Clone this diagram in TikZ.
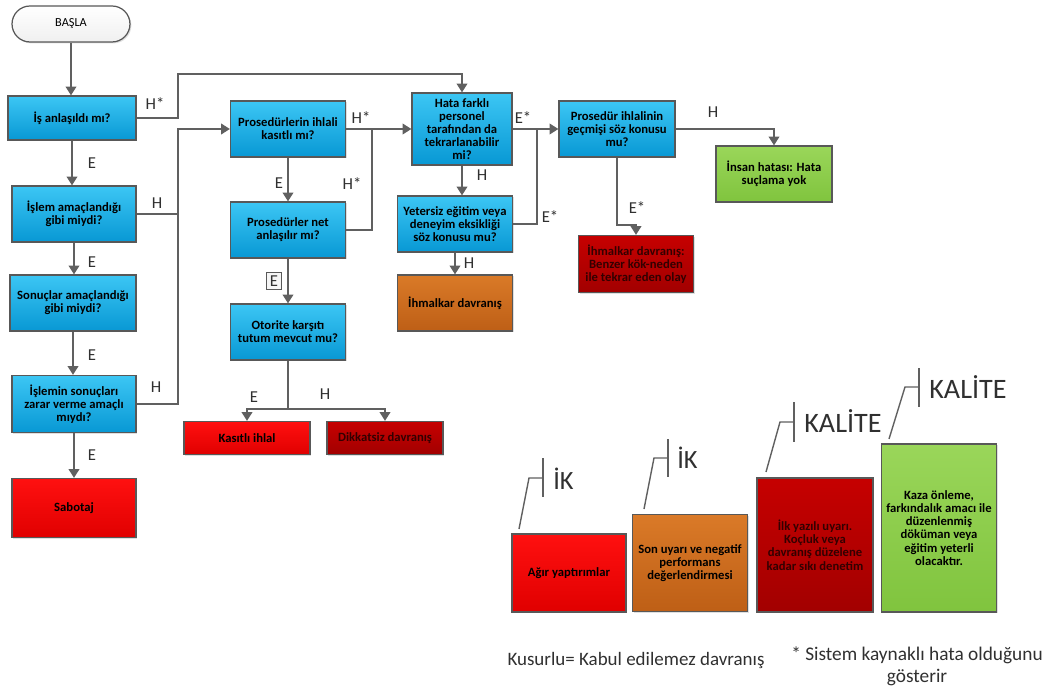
\documentclass[tikz,border=0pt]{standalone}
\usepackage{fontspec}
\setmainfont{Carlito}
\usetikzlibrary{arrows.meta,shadows}

\definecolor{linegray}{HTML}{606060}
\definecolor{edgegray}{HTML}{585858}
\definecolor{labelgray}{HTML}{303030}
\definecolor{bluetop}{HTML}{3CC6F4}
\definecolor{bluebot}{HTML}{0898D4}
\definecolor{redtop}{HTML}{FF1010}
\definecolor{redbot}{HTML}{E00000}
\definecolor{darkredtop}{HTML}{C60000}
\definecolor{darkredbot}{HTML}{A20000}
\definecolor{orangetop}{HTML}{DA7A28}
\definecolor{orangebot}{HTML}{BE5F16}
\definecolor{greentop}{HTML}{9AD65A}
\definecolor{greenbot}{HTML}{80C43E}

\tikzset{
  flow/.style={draw=linegray, line width=1.1pt, -{Triangle[length=5pt,width=6pt]}},
  link/.style={draw=linegray, line width=1.1pt},
  box/.style={draw=edgegray, line width=0.7pt, align=center, inner sep=1pt,
    font=\fontsize{7.2}{7.5}\selectfont\bfseries, minimum width=2.3cm, minimum height=1.12cm,
    drop shadow={opacity=0.25, shadow xshift=0.8pt, shadow yshift=-0.8pt}},
  query/.style={box, top color=bluetop, bottom color=bluebot},
  redbox/.style={box, top color=redtop, bottom color=redbot},
  darkbox/.style={box, top color=darkredtop, bottom color=darkredbot, text=black!80!red},
  orangebox/.style={box, top color=orangetop, bottom color=orangebot},
  greenbox/.style={box, top color=greentop, bottom color=greenbot},
  lbl/.style={font=\fontsize{9.5}{10}\selectfont, text=labelgray, inner sep=0pt},
  tier/.style={anchor=west, text=labelgray, inner sep=0pt},
  pointer/.style={draw=linegray, line width=0.8pt},
  bar/.style={draw=linegray, line width=1.4pt},
}

\begin{document}
\begin{tikzpicture}[x=0.02cm, y=-0.02cm]
    \useasboundingbox (0,0) rectangle (1045,689);

    \node[box, rounded corners=0.36cm, top color=white, bottom color=gray!12,
          minimum width=2.36cm, minimum height=0.72cm, font=\fontsize{7}{8}\selectfont] (start) at (71,24) {BAŞLA};

    \node[query, minimum width=2.56cm, minimum height=0.88cm] (q1) at (72,118) {İş anlaşıldı mı?};
    \node[query, minimum width=2.48cm] (q2) at (74,214) {İşlem amaçlandığı\\gibi miydi?};
    \node[query, minimum width=2.52cm] (q3) at (73,303) {Sonuçlar amaçlandığı\\gibi miydi?};
    \node[query, minimum width=2.48cm, minimum height=1.14cm] (q4) at (74,404) {İşlemin sonuçları\\zarar verme amaçlı\\mıydı?};
    \node[redbox, minimum width=2.48cm, minimum height=1.18cm] (sabotaj) at (74,508) {Sabotaj};

    \node[query] (q5) at (288,129) {Prosedürlerin ihlali\\kasıtlı mı?};
    \node[query] (q6) at (288,230) {Prosedürler net\\anlaşılır mı?};
    \node[query] (q7) at (288,332) {Otorite karşıtı\\tutum mevcut mu?};
    \node[redbox, minimum width=2.52cm, minimum height=0.66cm] (kasitli) at (247,438) {Kasıtlı ihlal};
    \node[darkbox, minimum width=2.32cm, minimum height=0.66cm] (dikkatsiz) at (385,438) {Dikkatsiz davranış};

    \node[query, minimum width=2.0cm, minimum height=1.44cm] (q8) at (462,129) {Hata farklı\\personel\\tarafından da\\tekrarlanabilir\\mi?};
    \node[query] (q9) at (455,224) {Yetersiz eğitim veya\\deneyim eksikliği\\söz konusu mu?};
    \node[orangebox] (ihmal) at (455,303) {İhmalkar davranış};

    \node[query, minimum width=2.32cm] (q10) at (617,129) {Prosedür ihlalinin\\geçmişi söz konusu\\mu?};
    \node[greenbox, minimum width=2.32cm] (insan) at (774,174) {İnsan hatası: Hata\\suçlama yok};
    \node[darkbox, minimum height=1.14cm] (ihmalolay) at (636,264) {İhmalkar davranış:\\Benzer kök-neden\\ile tekrar eden olay};

    \coordinate (top) at (178,74);
    \coordinate (bus) at (178,129);
    \coordinate (split) at (288,409);
    \coordinate (jmid) at (372,129);
    \coordinate (jright) at (537,129);
    \coordinate (bend) at (617,225);

    \draw[flow] (start.south) -- (start.south |- q1.north);
    \draw[flow] (q1.south) -- (q1.south |- q2.north);
    \draw[flow] (q2.south) -- (q2.south |- q3.north);
    \draw[flow] (q3.south) -- (q3.south |- q4.north);
    \draw[flow] (q4.south) -- (q4.south |- sabotaj.north);

    \draw[flow] (q1.east) -| (top) -| (q8.north);
    \draw[flow] (q4.east) -| (bus) -- (q5.west);
    \draw[link] (q2.east) -- (q2.east -| bus);

    \draw[flow] (q5) -- (q6);
    \draw[flow] (q6) -- (q7);
    \draw[link] (q7.south) -- (split);
    \draw[flow] (split) -| (kasitli.north);
    \draw[flow] (split) -| (dikkatsiz.north);

    \draw[flow] (q5.east) -- (q8.west);
    \draw[link] (q6.east) -| (jmid);
    \draw[flow] (q8.south) -- (q8.south |- q9.north);
    \draw[flow] (q9) -- (ihmal);

    \draw[flow] (q8.east) -- (q10.west);
    \draw[link] (q9.east) -| (jright);
    \draw[flow] (q10.east) -| (insan.north);
    \draw[flow] (q10.south) -- (bend) -| (ihmalolay.north);

    \node[lbl] (l1) at (155,104) {H*};
    \node[lbl] (l2) at (92,163) {E};
    \node[lbl] (l3) at (157,203) {H};
    \node[lbl] (l4) at (92,262) {E};
    \node[lbl] (l5) at (92,355) {E};
    \node[lbl] (l6) at (156,387) {H};
    \node[lbl] (l7) at (92,455) {E};
    \node[lbl] (l8) at (279,183) {E};
    \node[lbl, draw=edgegray, fill=gray!8, line width=0.6pt, inner sep=1.8pt] (l9) at (274,281) {E};
    \node[lbl] (l10) at (254,397) {E};
    \node[lbl] (l11) at (325,394) {H};
    \node[lbl] (l12) at (361,118) {H*};
    \node[lbl] (l13) at (352,184) {H*};
    \node[lbl] (l14) at (523,118) {E*};
    \node[lbl] (l15) at (482,175) {H};
    \node[lbl] (l16) at (550,217) {E*};
    \node[lbl] (l17) at (469,263) {H};
    \node[lbl] (l18) at (713,112) {H};
    \node[lbl] (l19) at (637,208) {E*};

    \node[redbox, minimum width=2.28cm, minimum height=1.56cm] (agir) at (569,573) {Ağır yaptırımlar};
    \node[orangebox, minimum width=2.3cm, minimum height=1.94cm] (sonuyari) at (690,563) {Son uyarı ve negatif\\performans\\değerlendirmesi};
    \node[darkbox, minimum width=2.32cm, minimum height=2.68cm] (ilkuyari) at (815,545) {İlk yazılı uyarı.\\Koçluk veya\\davranış düzelene\\kadar sıkı denetim};
    \node[greenbox, minimum width=2.3cm, minimum height=3.36cm] (kaza) at (939,528) {Kaza önleme,\\farkındalık amacı ile\\düzenlenmiş\\döküman veya\\eğitim yeterli\\olacaktır.};

    \coordinate (a1) at (519,529);
    \coordinate (a2) at (529,478);
    \coordinate (a3) at (543,478);
    \draw[pointer] (a1) -- (a2) -- (a3);
    \draw[bar] (543,458) -- (543,497);
    \node[tier, font=\fontsize{15}{16}\selectfont] (ik1) at (553,479) {İK};

    \coordinate (b1) at (644,509);
    \coordinate (b2) at (654,458);
    \coordinate (b3) at (668,458);
    \draw[pointer] (b1) -- (b2) -- (b3);
    \draw[bar] (668,439) -- (668,477);
    \node[tier, font=\fontsize{15}{16}\selectfont] (ik2) at (677,458) {İK};

    \coordinate (c1) at (766,472);
    \coordinate (c2) at (780,422);
    \coordinate (c3) at (794,422);
    \draw[pointer] (c1) -- (c2) -- (c3);
    \draw[bar] (794,402) -- (794,442);
    \node[tier, font=\fontsize{16}{17}\selectfont] (kal1) at (804,421) {KALİTE};

    \coordinate (d1) at (889,439);
    \coordinate (d2) at (905,387);
    \coordinate (d3) at (919,387);
    \draw[pointer] (d1) -- (d2) -- (d3);
    \draw[bar] (919,368) -- (919,407);
    \node[tier, font=\fontsize{16}{17}\selectfont] (kal2) at (929,387) {KALİTE};

    \node[font=\fontsize{10.8}{12}\selectfont, text=labelgray] (kusur) at (636,661) {Kusurlu= Kabul edilemez davranış};
    \node[font=\fontsize{11}{12.5}\selectfont, text=labelgray, align=center] (sistem) at (917,666) {* Sistem kaynaklı hata olduğunu\\gösterir};
\end{tikzpicture}
\end{document}
